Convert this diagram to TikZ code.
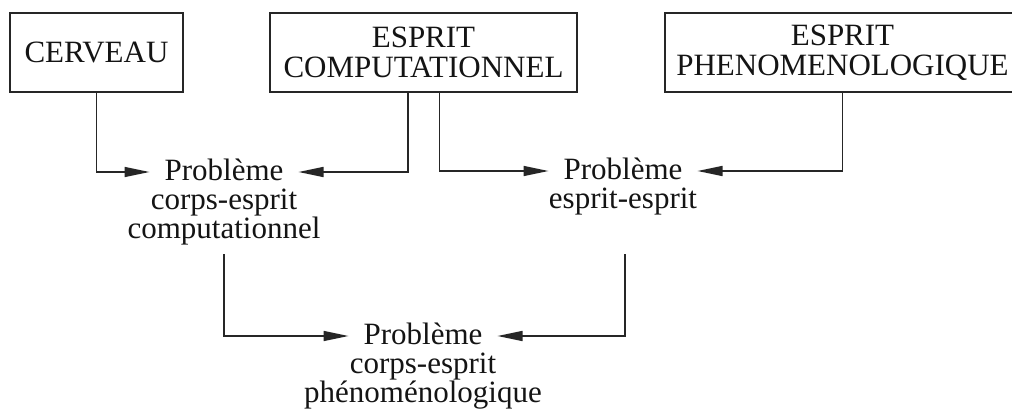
\documentclass[tikz,border=0pt]{standalone}
\usepackage{fontspec}
\setmainfont{Liberation Serif}
\usetikzlibrary{arrows.meta,calc}
\begin{document}
\begin{tikzpicture}[x=1pt,y=1pt,
  every node/.style={font=\fontsize{31}{30}\selectfont, text=black!92},
  mybox/.style={draw=black!85, line width=1.6pt, minimum height=79pt, inner sep=0pt, align=center},
  prob/.style={inner sep=0pt, align=center, anchor=base, font=\fontsize{31}{29}\selectfont},
  conn/.style={draw=black!85, line width=1.5pt, -{Triangle[length=25pt,width=10pt]}}
]
\clip (0,0) rectangle (1012,408);
\fill[white] (0,0) rectangle (1012,408);
% boxes
\node[mybox, minimum width=173pt] (cerveau) at (96.5,355.5) {CERVEAU};
\node[mybox, minimum width=307pt] (comp) at (423.5,355.5) {ESPRIT\\COMPUTATIONNEL};
\node[mybox, minimum width=355pt] (phen) at (842.5,355.5) {ESPRIT\\PHENOMENOLOGIQUE};
% problem nodes
\node[prob] (p1) at (224,170) {Problème\\corps-esprit\\computationnel};
\node[prob] (p2) at (623,200) {Problème\\esprit-esprit};
\node[prob] (p3) at (423,6) {Problème\\corps-esprit\\phénoménologique};
% arrow end points beside the word "Problème"
\coordinate (p1w) at ($(p1.base)+(-74.5,66)$);
\coordinate (p1e) at ($(p1.base)+(74.5,66)$);
\coordinate (p2w) at ($(p2.base)+(-74.5,37)$);
\coordinate (p2e) at ($(p2.base)+(74.5,37)$);
\coordinate (p3w) at ($(p3.base)+(-74.5,66)$);
\coordinate (p3e) at ($(p3.base)+(74.5,66)$);
% connectors
\draw[conn] (cerveau.south) |- (p1w);
\draw[conn] ([xshift=-15.5pt]comp.south) |- (p1e);
\draw[conn] ([xshift=16pt]comp.south) |- (p2w);
\draw[conn] (phen.south) |- (p2e);
\coordinate (s1) at ($(p1.base)+(0,-16)$);
\coordinate (s2) at ($(p2.base |- s1)+(2,0)$);
\draw[conn] (s1) |- (p3w);
\draw[conn] (s2) |- (p3e);
\end{tikzpicture}
\end{document}
